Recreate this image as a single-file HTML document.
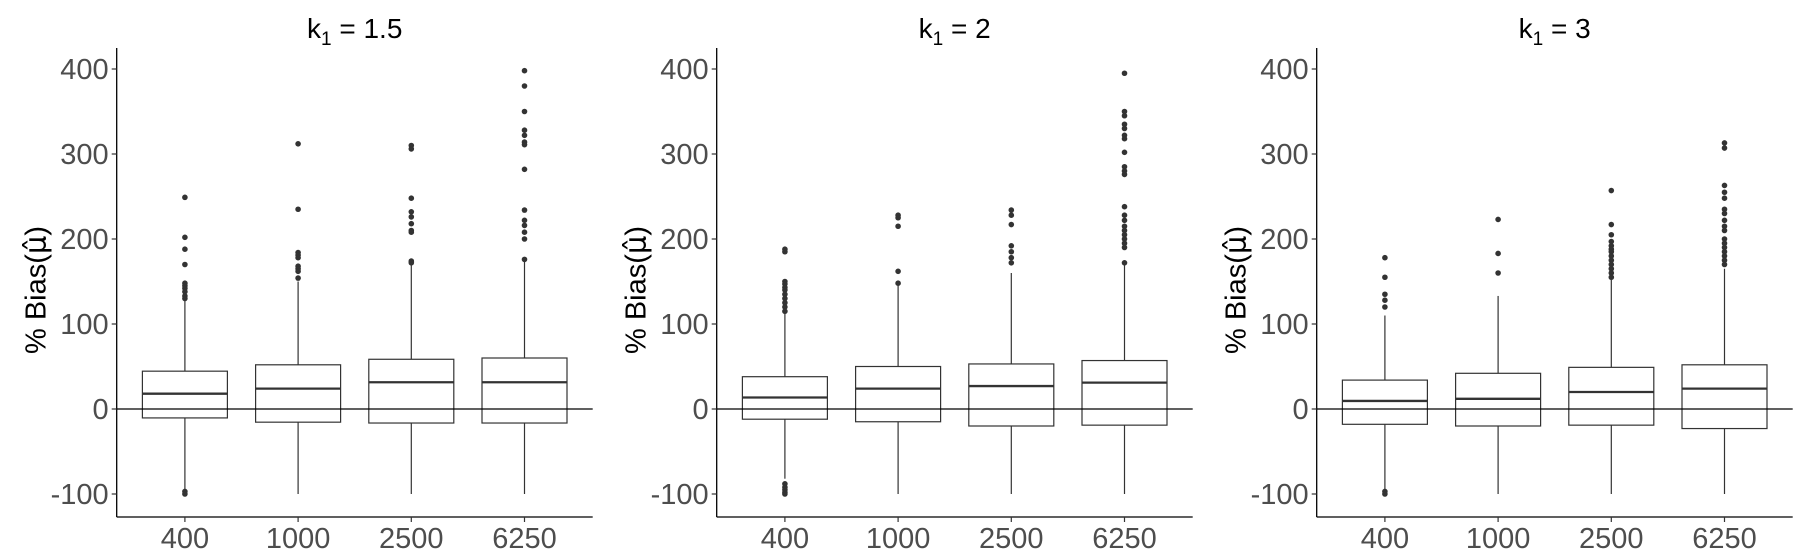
<!DOCTYPE html>
<html><head><meta charset="utf-8"><style>
html,body{margin:0;padding:0;background:#fff;}
svg{display:block;font-family:"Liberation Sans",sans-serif;}
</style></head><body>
<svg id="chart" width="1800" height="558" viewBox="0 0 1800 558"></svg>
<script>
const categories = ["400","1000","2500","6250"];
const panelTitles = ["1.5","2","3"];
const yTicks = [-100,0,100,200,300,400];
// per panel, per category: [lowerWhisker, q1, median, q3, upperWhisker]
const panel1Stats = [[-95,-10.5,18,44.5,128],[-100,-15.5,24,52,150],[-100,-16.5,31.5,58.5,170],[-100,-16.5,31.5,60,175]];
const panel2Stats = [[-82,-12,13.5,38,113],[-100,-15,24,50,147],[-100,-20,27,53,160],[-100,-19,31,57,170]];
const panel3Stats = [[-95,-18,9.5,34,110],[-100,-20,12,42,133],[-100,-19,20,49,152],[-100,-23,24,52,165]];
const panel1Outliers = [[249,202,188,170,148,145,142,138,133,130,-97,-100],[312,235,184,181,178,168,165,162,154],[310,306,248,232,226,218,210,208,174,172],[398,380,350,328,322,314,311,282,234,222,216,208,200,176]];
const panel2Outliers = [[188,185,150,147,143,140,135,130,125,120,115,-88,-92,-95,-98,-100],[228,225,215,162,148],[234,228,217,192,185,178,172],[395,350,345,335,330,322,318,302,285,280,276,238,228,222,215,210,205,200,195,190,172]];
const panel3Outliers = [[178,155,135,128,120,-97,-100],[223,183,160],[257,217,205,197,192,188,185,180,175,170,165,160,155],[313,307,263,255,248,235,230,222,215,210,200,195,190,185,180,175,170]];
const allStats=[panel1Stats,panel2Stats,panel3Stats];
const allOut=[panel1Outliers,panel2Outliers,panel3Outliers];
const NS="http://www.w3.org/2000/svg";
const svg=document.getElementById('chart');
function mk(tag,attrs,parent){const e=document.createElementNS(NS,tag);for(const k in attrs)e.setAttribute(k,attrs[k]);(parent||svg).appendChild(e);return e;}
const axTop=48, axBottom=517, plotW=476;
function yS(v){return 409-v*0.85;}
for(let p=0;p<3;p++){
  const x0=116.7+p*600;
  function xS(i){return x0+68.2+113.2*i;}
  const g=mk('g',{});
  
  
  const t=mk('text',{x:x0+238,y:38,'text-anchor':'middle','font-size':28,fill:'#000'},g);
  
  
  t.innerHTML='k<tspan font-size="19" dy="7">1</tspan><tspan dy="-7"> = '+panelTitles[p]+'</tspan>';
  const yt=mk('text',{transform:`translate(${x0-71},${yS(140)}) rotate(-90)`,'text-anchor':'middle','font-size':29,fill:'#000'},g);
  
  
  yt.innerHTML='% Bias(<tspan font-family="DejaVu Sans">μ̂</tspan>)';
  const ya=mk('line',{x1:x0,x2:x0,y1:axTop,y2:axBottom,stroke:'#000','stroke-width':1.3},g);
  
  
  const xa=mk('line',{x1:x0,x2:x0+plotW,y1:axBottom,y2:axBottom,stroke:'#000','stroke-width':1.3},g);
  
  
  yTicks.forEach(v=>{
    const tk=mk('line',{x1:x0-5,x2:x0,y1:yS(v),y2:yS(v),stroke:'#333','stroke-width':1.2},g);
    
    
    const tl=mk('text',{x:x0-8,y:yS(v)+10,'text-anchor':'end','font-size':29,fill:'#4d4d4d'},g);
    
    
    tl.textContent=v;
  });
  categories.forEach((c,i)=>{
    const tk=mk('line',{x1:xS(i),x2:xS(i),y1:axBottom,y2:axBottom+5,stroke:'#333','stroke-width':1.2},g);
    
    
    const tl=mk('text',{x:xS(i),y:axBottom+31,'text-anchor':'middle','font-size':29,fill:'#4d4d4d'},g);
    
    
    tl.textContent=c;
    const s=allStats[p][i]; const cx=xS(i), hw=42.5;
    const bg=mk('g',{},g);
    
    
    mk('line',{x1:cx,x2:cx,y1:yS(s[4]),y2:yS(s[3]),stroke:'#333','stroke-width':1.2},bg);
    mk('line',{x1:cx,x2:cx,y1:yS(s[1]),y2:yS(s[0]),stroke:'#333','stroke-width':1.2},bg);
    mk('rect',{x:cx-hw,y:yS(s[3]),width:2*hw,height:yS(s[1])-yS(s[3]),fill:'#fff',stroke:'#333','stroke-width':1.2},bg);
    mk('line',{x1:cx-hw,x2:cx+hw,y1:yS(s[2]),y2:yS(s[2]),stroke:'#333','stroke-width':2.3},bg);
    allOut[p][i].forEach(v=>{
      const d=mk('circle',{cx:cx,cy:yS(v),r:2.8,fill:'#333'},bg);
      
      
    });
  });
  const zl=mk('line',{x1:x0,x2:x0+plotW,y1:yS(0),y2:yS(0),stroke:'#000','stroke-width':1.3},g);
  
  
}
</script>
</body></html>
